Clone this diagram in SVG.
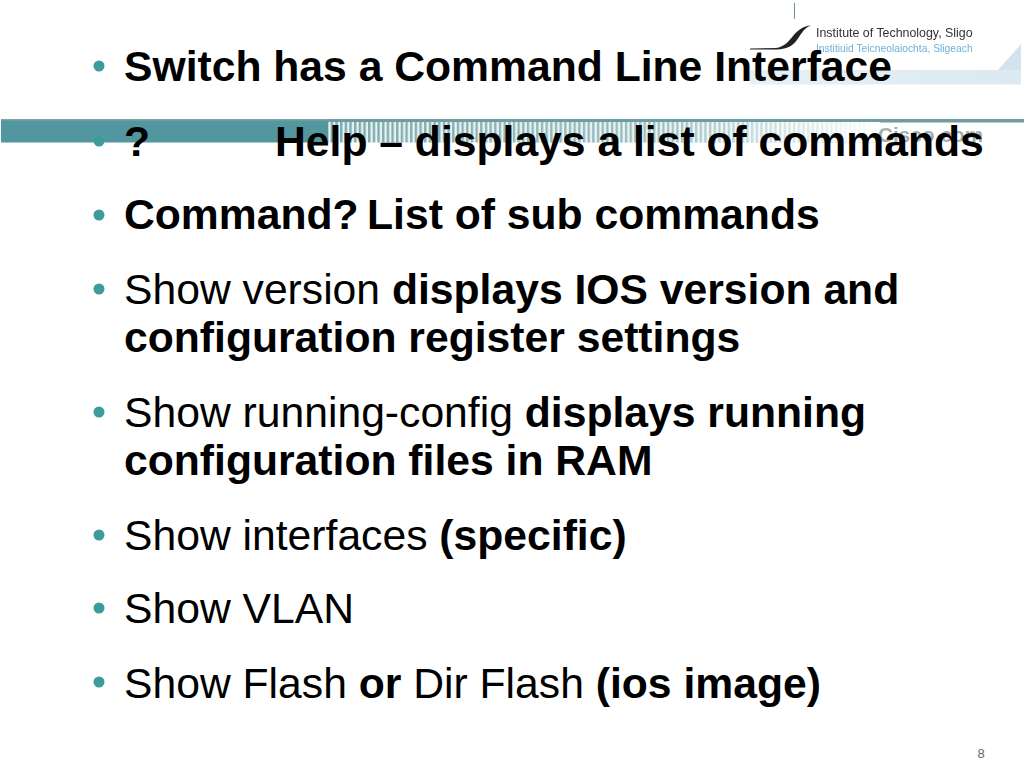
<svg xmlns="http://www.w3.org/2000/svg" width="1024" height="768" viewBox="0 0 1024 768">
<style>
text{font-family:"Liberation Sans",Arial,sans-serif;fill:#000}
.t{font-size:42.670px}
.b{font-weight:bold}
.d{fill:#3c9c9c}
</style>
<defs>
<filter id="soft" x="-5%" y="-20%" width="110%" height="140%"><feGaussianBlur stdDeviation="0.450"/></filter>
<pattern id="st" width="4.67" height="30" patternUnits="userSpaceOnUse" x="326" y="120">
<rect width="2.6" height="30" fill="#7fa9ad"/>
<rect x="2.6" width="2.07" height="30" fill="#e4f3f3"/>
</pattern>
<linearGradient id="fade" x1="326" x2="880" y1="0" y2="0" gradientUnits="userSpaceOnUse">
<stop offset="0" stop-color="#fff" stop-opacity="0"/>
<stop offset="0.6" stop-color="#fff" stop-opacity="0.25"/>
<stop offset="1" stop-color="#fff" stop-opacity="1"/>
</linearGradient>
<linearGradient id="band" x1="750" x2="1024" y1="0" y2="0" gradientUnits="userSpaceOnUse">
<stop offset="0" stop-color="#e6f0f6"/>
<stop offset="1" stop-color="#dce9f2"/>
</linearGradient>
</defs>
<rect width="1024" height="768" fill="#fff"/>
<g id="logo">
<rect x="794" y="3" width="1" height="16" fill="#6c8f98"/>
<rect x="750" y="70" width="271" height="14.500" fill="url(#band)"/>
<polygon points="1021,44 1021,70 998,70" fill="#d3e3ee"/>
<path d="M750,48.500 L776,48 C784,47 788,42 793,36 C798,30 803,26 811,25.500 C806,27 803,31 799,37 C794,45 789,48.500 778,49.500 L750,49.500Z" fill="#222"/>
<g filter="url(#soft)">
<text x="816" y="36.500" style="font-size:12.400px;fill:#333">Institute of Technology, Sligo</text>
<text x="816" y="52" style="font-size:10.300px;fill:#6bb2d8">Institiuid Teicneolaiochta, Sligeach</text>
</g>
</g>
<g id="banner">
<rect x="326" y="119" width="698" height="3.500" fill="#6f9ca0"/>
<rect x="326" y="122" width="554" height="20.500" fill="url(#st)"/>
<rect x="326" y="122" width="554" height="20.500" fill="url(#fade)"/>
<rect x="1" y="119" width="327" height="23.500" fill="#52979f"/>
<rect x="1" y="119" width="327" height="1.500" fill="#7fa5a8"/>
<text x="878" y="142" filter="url(#soft)" style="font-size:20.800px;font-weight:bold;fill:#a3adad">Cisco.com</text>
</g>
<g id="bullets" class="d">
<circle cx="99" cy="66" r="5.500"/>
<circle cx="99" cy="141" r="5.500"/>
<circle cx="99" cy="215" r="5.500"/>
<circle cx="99" cy="289" r="5.500"/>
<circle cx="99" cy="412" r="5.500"/>
<circle cx="99" cy="535" r="5.500"/>
<circle cx="99" cy="608" r="5.500"/>
<circle cx="99" cy="682" r="5.500"/>
</g>
<g id="content">
<text class="t b" x="124" y="81">Switch has a Command Line Interface</text>
<text class="t b" x="124" y="156">?</text>
<text class="t b" x="275" y="156">Help – displays a list of commands</text>
<text class="t b" x="124" y="229">Command?</text>
<text class="t b" x="367" y="229">List of sub commands</text>
<text class="t" x="124" y="304">Show version <tspan class="b">displays IOS version and</tspan></text>
<text class="t b" x="124" y="352">configuration register settings</text>
<text class="t" x="124" y="427">Show running-config <tspan class="b">displays running</tspan></text>
<text class="t b" x="124" y="475">configuration files in RAM</text>
<text class="t" x="124" y="550">Show interfaces <tspan class="b">(specific)</tspan></text>
<text class="t" x="124" y="623">Show VLAN</text>
<text class="t" x="124" y="698">Show Flash <tspan class="b">or</tspan> Dir Flash <tspan class="b">(ios image)</tspan></text>
<text x="977.500" y="757.500" style="font-size:13px;fill:#666">8</text>
</g>
</svg>
